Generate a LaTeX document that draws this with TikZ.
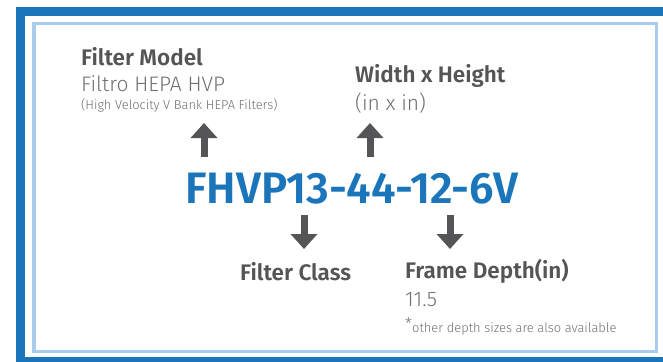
\documentclass[tikz,border=0pt]{standalone}
\usepackage{fontspec}
\setmainfont{Fira Sans}[UprightFont=* Light, BoldFont=* SemiBold]
\usetikzlibrary{arrows.meta, positioning}
\definecolor{codeblue}{RGB}{27,117,187}
\definecolor{paleblue}{RGB}{170,204,236}
\definecolor{labelgray}{RGB}{85,85,87}
\definecolor{notegray}{RGB}{112,112,114}

\begin{document}
\begin{tikzpicture}[x=1pt, y=-1pt,
    every node/.style={inner sep=0pt, anchor=base west},
    heading/.style={font=\fontsize{22.5}{22.5}\selectfont\bfseries, text=labelgray},
    detail/.style={font=\fontsize{21}{21}\selectfont, text=notegray},
    fine/.style={font=\fontsize{12.9}{12.9}\selectfont, text=notegray},
    pointer/.style={draw=labelgray, line width=7pt, -{Triangle[width=26pt, length=15pt]}}]
    \useasboundingbox (0,0) rectangle (663,361);
    % frames
    \fill[codeblue] (16,7) rectangle (680,380);
    \fill[white] (25,16) rectangle (680,357);
    \draw[paleblue, line width=3.5pt] (34,23.5) rectangle (656.5,351.5);

    % model code
    \node[font=\fontsize{44}{44}\selectfont\bfseries, text=codeblue](code) at (185,203) {FHVP13-44-12-6V};

    % upper labels
    \node[heading](model) at (81,65) {Filter Model};
    \node[detail](modelname) at (81,91.5) {Filtro HEPA HVP};
    \node[fine](modelnote) at (81,109) {(High Velocity V Bank HEPA Filters)};
    \node[heading](size) at (355,82) {Width x Height};
    \node[detail](sizeunit) at (355,110) {(in x in)};

    % lower labels
    \node[heading](class) at (240,280.5) {Filter Class};
    \node[heading](depth) at (405,278) {Frame Depth(in)};
    \node[detail](depthval) at (405,306) {11.5};
    \node[fine](depthnote) at (405,332) {\raisebox{3pt}{\fontsize{16}{16}\selectfont *}other depth sizes are also available};

    % arrows
    \coordinate (modelfoot) at (204,157);
    \coordinate (modeltip) at (204,123);
    \coordinate (sizefoot) at (370,157);
    \coordinate (sizetip) at (370,123);
    \coordinate (classfoot) at (304,215);
    \coordinate (classtip) at (304,249);
    \coordinate (depthfoot) at (450,215);
    \coordinate (depthtip) at (450,249);
    \draw[pointer] (modelfoot) -- (modeltip);
    \draw[pointer] (sizefoot) -- (sizetip);
    \draw[pointer] (classfoot) -- (classtip);
    \draw[pointer] (depthfoot) -- (depthtip);
\end{tikzpicture}
\end{document}
